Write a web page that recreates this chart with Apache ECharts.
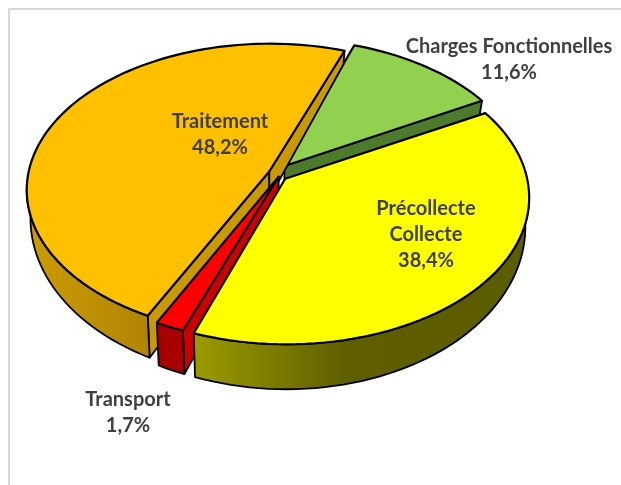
<!DOCTYPE html>
<html><head><meta charset="utf-8">
<style>html,body{margin:0;padding:0;background:#fff}#c{width:621px;height:485px}</style>
<script src="https://cdn.jsdelivr.net/npm/echarts@6/dist/echarts.min.js"></script>
</head><body><div id="c"></div>
<script>
const names = ['Traitement','Charges Fonctionnelles','Précollecte\nCollecte','Transport'];
const values = [48.2,11.6,38.4,1.7];
const valueLabels = ['48,2%','11,6%','38,4%','1,7%'];
const topColors = ['#FFC000','#92D050','#FFFF00','#FF0000'];
const cutColors = ['#C99A00','#4E7A2C','#8F8F00','#CC0000'];
const explode = [0.035,0.055,0.05,0.035];
const sliceRotate = [0,-1,-0.6,0];
const sliceNudge = [[0,1.5],[-1,0],[-1,2],[5,0]];
const labelCentres = [[220,135],[509,60],[426,235],[128,413]];
const drawOrder = [1,0,3,2];
const wallStops = [
  [[0,'#CB9C00'],[0.6,'#BC8E04'],[1,'#B08404']],
  [[0,'#4E7A2C'],[1,'#4E7A2C']],
  [[0,'#9C9C00'],[0.45,'#5F5F00'],[1,'#5C5C00']],
  [[0,'#A80000'],[1,'#A80000']]
];

const startAngle = 206.5, cx = 277, cy = 172, Ax = 241, Ay = 144, k = 0.123;
const depth = 26.7, depthSlope = 0.107, bottomScale = 0.985;
const total = values.reduce((a,b)=>a+b,0);
const rad = d => d*Math.PI/180;

function sliceAngles(i){
  let a = startAngle;
  for(let j=0;j<i;j++) a += values[j]/total*360;
  return [a+sliceRotate[i], a+sliceRotate[i]+values[i]/total*360];
}
function project(i,u,v,bottom){
  const w = 1-k*v;
  let X = Ax*u/w, Y = Ay*v/w;
  if(bottom){ X*=bottomScale; Y=Y*(1+depthSlope)+depth; }
  return [cx+X+sliceNudge[i][0], cy+Y+sliceNudge[i][1]];
}
function rimPt(i,ang,bottom){
  const [a0,a1] = sliceAngles(i);
  const m = rad((a0+a1)/2), e = explode[i];
  return project(i,e*Math.sin(m)+Math.sin(rad(ang)), -e*Math.cos(m)-Math.cos(rad(ang)), bottom);
}
function apexPt(i,bottom){
  const [a0,a1] = sliceAngles(i);
  const m = rad((a0+a1)/2), e = explode[i];
  return project(i,e*Math.sin(m), -e*Math.cos(m), bottom);
}
function arc(i,a,b,bottom){
  const pts=[], n=Math.max(2,Math.ceil(Math.abs(b-a)/2));
  for(let t=0;t<=n;t++) pts.push(rimPt(i,a+(b-a)*t/n,bottom));
  return pts;
}
function poly(points,fill,lw){
  return {type:'polygon',shape:{points},style:{fill,stroke:'#000',lineWidth:lw,lineJoin:'round'}};
}
function renderSlice(params,api){
  const i = api.value(0);
  const [a0,a1] = sliceAngles(i);
  const A = apexPt(i,false), Ab = apexPt(i,true);
  const mid = rimPt(i,(a0+a1)/2,false);
  const children = [];
  [a0,a1].forEach(ang=>{
    const R = rimPt(i,ang,false), Rb = rimPt(i,ang,true);
    const dx=R[0]-A[0], dy=R[1]-A[1];
    const crossMid = dx*(mid[1]-A[1])-dy*(mid[0]-A[0]);
    if(dx*crossMid<0) children.push(poly([A,R,Rb,Ab],cutColors[i],1.8));
  });
  // outer wall: only the part of the rim that faces the viewer (96..264 degrees, any turn)
  [-360,0,360].forEach(shift=>{
    const lo=Math.max(a0,96+shift), hi=Math.min(a1,264+shift);
    if(lo<hi){
      const pts=arc(i,lo,hi,false).concat(arc(i,hi,lo,true));
      const fill=new echarts.graphic.LinearGradient(0,0,1,0,wallStops[i].map(s=>({offset:s[0],color:s[1]})));
      children.push(poly(pts,fill,1.8));
    }
  });
  children.push(poly([A].concat(arc(i,a0,a1,false)),topColors[i],2.2));
  return {type:'group',children};
}
function renderLabel(params,api){
  const i = api.value(0);
  const c = labelCentres[i];
  return {type:'text',x:c[0],y:c[1],style:{
    text:names[i]+'\n'+valueLabels[i],
    font:'bold 20px Lato, "Open Sans", sans-serif',
    fill:'#404040',align:'center',verticalAlign:'middle',lineHeight:26
  }};
}
const chart = echarts.init(document.getElementById('c'),null,{renderer:'canvas'});
chart.setOption({
  animation:false,
  backgroundColor:'#fff',
  graphic:{elements:[
    {type:'polyline',silent:true,z:0,shape:{points:[[9,485],[9,9],[621,9]]},style:{fill:'none',stroke:'#D9D9D9',lineWidth:2}}
  ]},
  series:[
    {type:'custom',coordinateSystem:'none',silent:true,z:2,renderItem:renderSlice,
     data:drawOrder.map(i=>[i,values[i]])},
    {type:'custom',coordinateSystem:'none',silent:true,z:3,renderItem:renderLabel,
     data:values.map((v,i)=>[i,v])}
  ]
});
</script></body></html>
